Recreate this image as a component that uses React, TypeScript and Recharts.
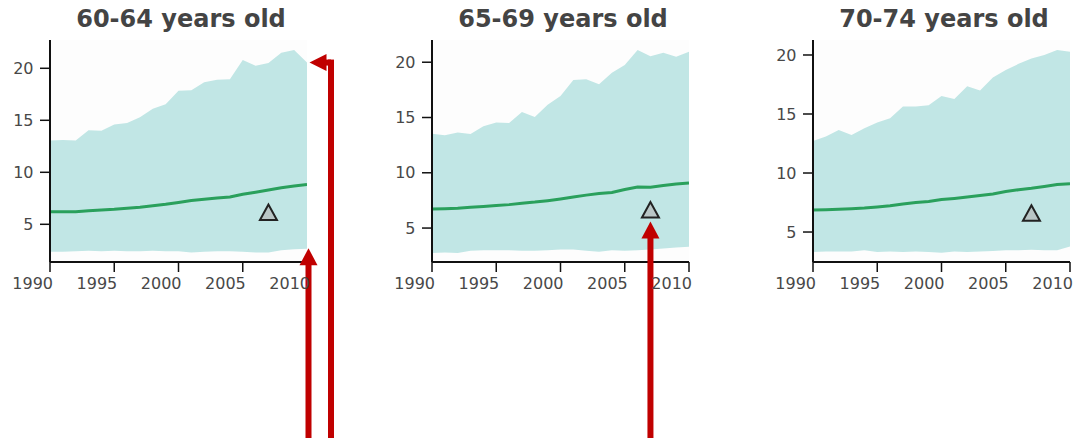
import React from 'react';
import {
  ComposedChart,
  Area,
  Line,
  Scatter,
  XAxis,
  YAxis,
  ReferenceDot,
  CartesianGrid,
} from 'recharts';

// Years shown on every panel
const years = [
  1990, 1991, 1992, 1993, 1994, 1995, 1996, 1997, 1998, 1999, 2000,
  2001, 2002, 2003, 2004, 2005, 2006, 2007, 2008, 2009, 2010,
];

// 60-64 years old
const upper6064 = [13.05, 13.1, 13.05, 14.05, 14.0, 14.6, 14.75, 15.3, 16.1, 16.55, 17.85, 17.9, 18.65, 18.9, 18.95, 20.8, 20.25, 20.5, 21.5, 21.75, 20.55];
const lower6064 = [2.35, 2.35, 2.4, 2.45, 2.4, 2.45, 2.4, 2.4, 2.45, 2.4, 2.4, 2.3, 2.35, 2.4, 2.4, 2.35, 2.3, 2.3, 2.5, 2.6, 2.65];
const mean6064 = [6.2, 6.2, 6.2, 6.3, 6.38, 6.45, 6.55, 6.65, 6.78, 6.92, 7.1, 7.28, 7.4, 7.52, 7.62, 7.88, 8.08, 8.3, 8.52, 8.68, 8.82];

// 65-69 years old
const upper6569 = [13.52, 13.4, 13.64, 13.5, 14.2, 14.55, 14.5, 15.5, 15.05, 16.15, 16.95, 18.4, 18.45, 18.0, 19.05, 19.75, 21.1, 20.55, 20.85, 20.5, 20.95];
const lower6569 = [2.75, 2.78, 2.75, 2.95, 3.0, 3.0, 3.0, 2.95, 2.95, 3.0, 3.05, 3.05, 2.95, 2.85, 3.0, 2.95, 3.0, 3.05, 3.15, 3.25, 3.3];
const mean6569 = [6.72, 6.75, 6.8, 6.88, 6.95, 7.03, 7.12, 7.25, 7.35, 7.48, 7.63, 7.8, 7.98, 8.12, 8.22, 8.48, 8.72, 8.7, 8.85, 8.98, 9.07];

// 70-74 years old
const upper7074 = [12.72, 13.1, 13.65, 13.23, 13.8, 14.27, 14.64, 15.63, 15.63, 15.74, 16.53, 16.28, 17.35, 17.0, 18.1, 18.73, 19.25, 19.7, 20.0, 20.42, 20.28];
const lower7074 = [3.3, 3.35, 3.35, 3.35, 3.45, 3.3, 3.35, 3.3, 3.35, 3.3, 3.25, 3.35, 3.3, 3.35, 3.4, 3.45, 3.45, 3.5, 3.45, 3.45, 3.78];
const mean7074 = [6.86, 6.88, 6.92, 6.97, 7.03, 7.12, 7.23, 7.38, 7.5, 7.58, 7.75, 7.85, 7.97, 8.1, 8.23, 8.43, 8.58, 8.7, 8.85, 9.02, 9.08];

// Single observed marker per panel
const marker6064 = [{ year: 2007, value: 6.03 }];
const marker6569 = [{ year: 2007, value: 6.54 }];
const marker7074 = [{ year: 2007, value: 6.5 }];

const yearTicks = [1990, 1995, 2000, 2005, 2010];
const valueTicks = [5, 10, 15, 20];
const titles = ['60-64 years old', '65-69 years old', '70-74 years old'];

const CHART_H = 438;
const FONT = '"DejaVu Sans", Verdana, sans-serif';
const BAND = '#c1e6e5';
const GREEN = '#2aa05c';
const RED = '#c00000';
const AXIS = '#111';
const TEXT = '#484848';

const buildRows = (upper: number[], lower: number[], mean: number[]) =>
  years.map((year, i) => ({ year, band: [lower[i], upper[i]], mean: mean[i] }));

const XTick = (props: any) => {
  const { x, y, payload } = props;
  return (
    <text x={x + 3} y={y} dy={12.3} textAnchor="end" fill={TEXT} fontSize={16} fontFamily={FONT}>
      {payload.value}
    </text>
  );
};

const YTick = (props: any) => {
  const { x, y, payload } = props;
  return (
    <text x={x} y={y} dy={5.6} textAnchor="end" fill={TEXT} fontSize={16} fontFamily={FONT}>
      {payload.value}
    </text>
  );
};

const TriangleMark = (props: any) => {
  const { cx, cy } = props;
  if (cx == null || cy == null) return null;
  const pts = `${cx},${cy - 9} ${cx - 8.5},${cy + 6.5} ${cx + 8.5},${cy + 6.5}`;
  return <polygon points={pts} fill="#b9c6c6" stroke="#222" strokeWidth={2} strokeLinejoin="miter" />;
};

// Upward arrow whose tip sits at (cx + dx, cy + gap), shaft running to the bottom edge
const UpArrow = (props: any) => {
  const { cx, cy, dx = 0, gap = 0 } = props;
  if (cx == null || cy == null) return null;
  const x = cx + dx;
  const tip = cy + gap;
  return (
    <g>
      <rect x={x - 3} y={tip + 14} width={6} height={CHART_H - tip - 14} fill={RED} />
      <polygon points={`${x},${tip} ${x - 9},${tip + 17} ${x + 9},${tip + 17}`} fill={RED} />
    </g>
  );
};

// Arrow coming up from the bottom edge, turning left to point at (cx + dx, cy)
const ElbowArrow = (props: any) => {
  const { cx, cy, dx = 0, reach = 22 } = props;
  if (cx == null || cy == null) return null;
  const tipX = cx + dx;
  const shaftX = tipX + reach;
  return (
    <g>
      <rect x={shaftX - 3} y={cy - 3} width={6} height={CHART_H - cy + 3} fill={RED} />
      <rect x={tipX + 14} y={cy - 3} width={shaftX - tipX - 14} height={6} fill={RED} />
      <polygon points={`${tipX},${cy} ${tipX + 17},${cy - 8.5} ${tipX + 17},${cy + 8.5}`} fill={RED} />
    </g>
  );
};

type PanelProps = {
  left: number;
  width: number;
  yAxisWidth: number;
  marginRight: number;
  domain: [number, number];
  rows: any[];
  marker: { year: number; value: number }[];
  children?: React.ReactNode;
};

const Panel = ({ left, width, yAxisWidth, marginRight, domain, rows, marker, children }: PanelProps) => (
  <div style={{ position: 'absolute', left, top: 0 }}>
    <ComposedChart
      width={width}
      height={CHART_H}
      data={rows}
      margin={{ top: 40, right: marginRight, bottom: 146, left: 0 }}
    >
      <CartesianGrid horizontal={false} vertical={false} fill="#fdfdfd" />
      <XAxis
        dataKey="year"
        type="number"
        domain={[1990, 2010]}
        ticks={yearTicks}
        interval={0}
        height={30}
        tickSize={10}
        tickMargin={5}
        axisLine={{ stroke: AXIS, strokeWidth: 2 }}
        tickLine={{ stroke: AXIS, strokeWidth: 1.5 }}
        tick={<XTick />}
        allowDataOverflow
      />
      <YAxis
        type="number"
        domain={domain}
        ticks={valueTicks}
        interval={0}
        width={yAxisWidth}
        tickSize={10}
        tickMargin={6.5}
        axisLine={{ stroke: AXIS, strokeWidth: 2 }}
        tickLine={{ stroke: AXIS, strokeWidth: 1.5 }}
        tick={<YTick />}
        allowDataOverflow
      />
      <Area
        dataKey="band"
        type="linear"
        stroke="none"
        fill={BAND}
        fillOpacity={1}
        isAnimationActive={false}
        dot={false}
        activeDot={false}
      />
      <Line
        dataKey="mean"
        type="linear"
        stroke={GREEN}
        strokeWidth={3}
        dot={false}
        activeDot={false}
        isAnimationActive={false}
      />
      <Scatter
        data={marker}
        dataKey="value"
        shape={<TriangleMark />}
        isAnimationActive={false}
      />
      {children}
    </ComposedChart>
  </div>
);

const rows6064 = buildRows(upper6064, lower6064, mean6064);
const rows6569 = buildRows(upper6569, lower6569, mean6569);
const rows7074 = buildRows(upper7074, lower7074, mean7074);

const last = (arr: number[]) => arr[arr.length - 1];

export default function App() {
  return (
    <div style={{ position: 'absolute', left: 0, top: 0, width: 1073, height: CHART_H, background: '#fff' }}>
      <svg width={1073} height={40} style={{ position: 'absolute', left: 0, top: 0 }}>
        {[181, 563, 944].map((cx, i) => (
          <text
            key={titles[i]}
            x={cx}
            y={27}
            textAnchor="middle"
            fontSize={24}
            fontWeight="bold"
            fontFamily={FONT}
            fill="#444"
          >
            {titles[i]}
          </text>
        ))}
      </svg>
      <Panel left={0} width={370} yAxisWidth={50} marginRight={63} domain={[1.375, 22.72]} rows={rows6064} marker={marker6064}>
        <ReferenceDot
          x={2010}
          y={last(lower6064)}
          ifOverflow="visible"
          shape={(p: any) => <UpArrow {...p} dx={1.5} gap={-0.5} />}
        />
        <ReferenceDot
          x={2010}
          y={last(upper6064)}
          ifOverflow="visible"
          shape={(p: any) => <ElbowArrow {...p} dx={2.5} reach={21.5} />}
        />
      </Panel>
      <Panel left={370} width={380} yAxisWidth={62} marginRight={61} domain={[1.93, 22.01]} rows={rows6569} marker={marker6569}>
        <ReferenceDot
          x={marker6569[0].year}
          y={marker6569[0].value}
          ifOverflow="visible"
          shape={(p: any) => <UpArrow {...p} dx={0} gap={10.5} />}
        />
      </Panel>
      <Panel left={750} width={323} yAxisWidth={63} marginRight={3} domain={[2.46, 21.27]} rows={rows7074} marker={marker7074} />
    </div>
  );
}
